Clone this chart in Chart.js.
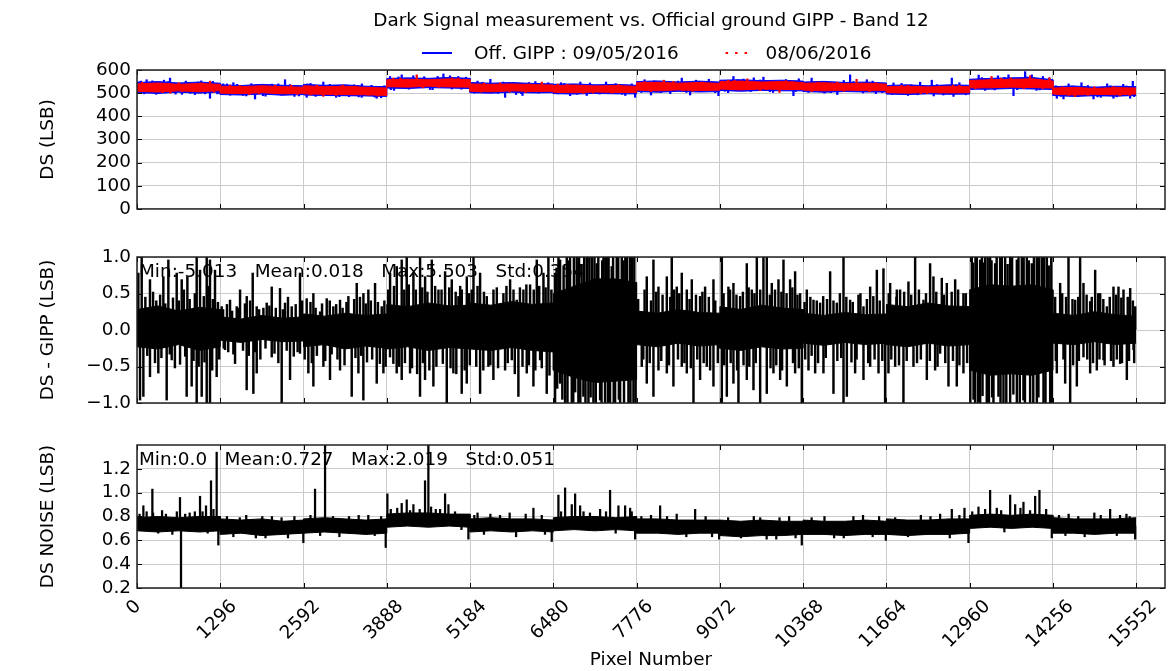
<!DOCTYPE html>
<html>
<head>
<meta charset="utf-8">
<script src="https://cdn.jsdelivr.net/npm/chart.js@4.4.1/dist/chart.umd.min.js"></script>
<style>
  html, body { margin: 0; padding: 0; background: #fff; }
  #wrap { position: relative; width: 1171px; height: 671px; overflow: hidden; }
  #wrap canvas { position: absolute; left: 0; }
</style>
</head>
<body>
<div id="wrap">
  <canvas id="dsChart" width="1171" height="226" style="top:0px"></canvas>
  <canvas id="diffChart" width="1171" height="200" style="top:226px"></canvas>
  <canvas id="noiseChart" width="1171" height="245" style="top:426px"></canvas>
</div>
<script>
// ---------- labels ----------
const chartTitle = 'Dark Signal measurement vs. Official ground GIPP - Band 12';
const seriesNames = ['Off. GIPP : 09/05/2016', '08/06/2016'];
const xTitle = 'Pixel Number';
const yTitles = ['DS (LSB)', 'DS - GIPP (LSB)', 'DS NOISE (LSB)'];
const statNames = ['Min', 'Mean', 'Max', 'Std'];

// ---------- axes ----------
const pixelTicks = [0, 1296, 2592, 3888, 5184, 6480, 7776, 9072, 10368, 11664, 12960, 14256, 15552];
const dsTicks = [0, 100, 200, 300, 400, 500, 600];
const diffTicks = [-1, -0.5, 0, 0.5, 1];
const noiseTicks = [0.2, 0.4, 0.6, 0.8, 1.0, 1.2];

// envelope sample positions (5 per detector of 1296 pixels)
const bandPixels = [
  0, 324, 648, 972, 1295,        1296, 1620, 1944, 2268, 2591,
  2592, 2916, 3240, 3564, 3887,  3888, 4212, 4536, 4860, 5183,
  5184, 5508, 5832, 6156, 6479,  6480, 6804, 7128, 7452, 7775,
  7776, 8100, 8424, 8748, 9071,  9072, 9396, 9720, 10044, 10367,
  10368, 10692, 11016, 11340, 11663, 11664, 11988, 12312, 12636, 12959,
  12960, 13284, 13608, 13932, 14255, 14256, 14580, 14904, 15228, 15551
];

// ---------- dark signal (LSB) ----------
const gippHigh = [
  546, 550, 544, 548, 543,  536, 533, 538, 534, 532,
  538, 534, 536, 530, 528,  563, 566, 564, 568, 564,
  546, 543, 546, 542, 540,  538, 540, 536, 538, 534,
  550, 553, 548, 552, 548,  556, 558, 554, 556, 552,
  548, 551, 546, 548, 544,  533, 536, 532, 536, 534,
  560, 564, 566, 568, 558,  528, 531, 526, 530, 528
];
const gippLow = [
  502, 499, 504, 500, 505,  494, 492, 496, 491, 494,
  492, 490, 489, 488, 486,  522, 520, 524, 522, 520,
  502, 500, 504, 501, 502,  498, 496, 499, 497, 497,
  507, 504, 508, 505, 507,  512, 508, 512, 510, 510,
  507, 504, 507, 505, 505,  496, 494, 497, 495, 496,
  517, 517, 520, 518, 516,  490, 486, 489, 487, 490
];
const measHigh = [
  540, 544, 538, 542, 538,  530, 528, 532, 528, 526,
  532, 528, 530, 525, 522,  558, 560, 558, 562, 558,
  540, 538, 540, 537, 535,  533, 535, 531, 533, 529,
  545, 547, 543, 546, 542,  550, 552, 548, 550, 546,
  543, 545, 541, 543, 539,  528, 530, 527, 530, 528,
  555, 558, 560, 562, 552,  522, 525, 520, 524, 522
];
const measLow = [
  508, 505, 510, 506, 511,  500, 498, 502, 497, 500,
  497, 495, 494, 493, 490,  528, 526, 530, 527, 526,
  508, 506, 510, 507, 508,  504, 502, 505, 503, 503,
  513, 510, 514, 511, 513,  518, 514, 518, 516, 516,
  513, 510, 513, 511, 511,  502, 500, 503, 501, 502,
  523, 523, 526, 524, 522,  496, 492, 495, 493, 496
];
const dsLevel = [524, 515, 512, 543, 524, 519, 529, 533, 527, 515, 540, 509];
const gippSpikes = [
  [30, 549], [60, 552], [110, 497], [150, 558], [240, 553], [300, 495], [350, 498], [420, 556],
  [480, 550], [514, 565], [600, 496], [700, 495], [760, 552], [830, 499], [900, 494], [950, 548],
  [1000, 553], [1060, 497], [1136, 478], [1180, 551], [1250, 497], [1280, 499],
  [1340, 540], [1400, 540], [1450, 491], [1500, 545], [1560, 538], [1650, 490], [1700, 488],
  [1780, 541], [1837, 475], [1960, 489], [2000, 487], [2100, 539], [2200, 540], [2250, 491],
  [2304, 558], [2380, 537], [2450, 486], [2520, 488],
  [2641, 482], [2650, 540], [2700, 542], [2780, 486], [2900, 548], [3000, 538], [3100, 482],
  [3150, 485], [3300, 485], [3380, 536], [3450, 484], [3497, 482], [3500, 540], [3650, 534],
  [3700, 483], [3731, 478], [3800, 480], [3850, 532],
  [3938, 572], [3950, 515], [4000, 512], [4070, 570], [4120, 579], [4230, 517], [4300, 575],
  [4470, 571], [4560, 516], [4600, 515], [4680, 572], [4769, 583], [4872, 575], [4900, 518],
  [5000, 572], [5050, 517], [5120, 569],
  [5250, 500], [5300, 552], [5380, 547], [5500, 560], [5620, 499], [5700, 548], [5729, 482],
  [5900, 494], [5980, 498], [6000, 490], [6100, 546], [6200, 550], [6250, 500], [6400, 545],
  [6550, 497], [6600, 545], [6650, 542], [6741, 489], [6850, 495], [6900, 548], [7000, 490],
  [7050, 544], [7200, 496], [7300, 548], [7450, 541], [7550, 495], [7600, 490], [7700, 540],
  [7753, 482],
  [7850, 503], [7900, 558], [8000, 492], [8050, 553], [8150, 502], [8300, 498], [8420, 552],
  [8479, 565], [8550, 503], [8609, 492], [8700, 556], [8800, 551], [8900, 560], [9000, 502],
  [9050, 489],
  [9150, 508], [9200, 502], [9283, 572], [9350, 558], [9439, 561], [9550, 507], [9600, 566],
  [9700, 557], [9750, 569], [9850, 506], [9900, 503], [10100, 559], [10217, 489], [10250, 507],
  [10300, 562],
  [10450, 503], [10500, 565], [10600, 551], [10700, 500], [10800, 502], [10900, 494], [11000, 555],
  [11099, 579], [11150, 550], [11300, 501], [11359, 558], [11450, 552], [11500, 498], [11600, 502],
  [11750, 494], [11774, 544], [11900, 542], [12000, 490], [12050, 536], [12150, 493], [12189, 547],
  [12370, 556], [12400, 488], [12450, 537], [12550, 492], [12682, 565], [12708, 486], [12750, 536],
  [12800, 545], [12900, 493],
  [13000, 515], [13100, 578], [13150, 567], [13200, 512], [13350, 514], [13400, 575], [13500, 568],
  [13564, 579], [13642, 489], [13700, 515], [13823, 593], [13850, 570], [13927, 579], [14000, 512],
  [14050, 514], [14100, 572], [14200, 566],
  [14300, 532], [14316, 478], [14380, 486], [14420, 475], [14500, 540], [14550, 531], [14650, 485],
  [14700, 545], [14800, 533], [14887, 475], [14950, 484], [15000, 482], [15100, 540], [15150, 532],
  [15198, 478], [15250, 484], [15350, 538], [15400, 531], [15458, 478], [15499, 551], [15520, 485]
];
const measSpikes = [
  [80, 547], [200, 542], [400, 502], [520, 500], [650, 545], [700, 506], [1000, 545], [1136, 552],
  [1200, 504], [1450, 535], [1600, 533], [1750, 494], [1900, 497], [2150, 534], [2400, 535],
  [2500, 494], [2700, 492], [2800, 534], [2900, 486], [3100, 490], [3200, 535], [3400, 531],
  [3600, 490], [3750, 487], [3990, 565], [4100, 565], [4354, 579], [4450, 523], [4700, 525],
  [4900, 566], [5000, 565], [5350, 504], [5400, 543], [5650, 544], [5800, 505], [6050, 503],
  [6100, 540], [6300, 548], [6550, 539], [6700, 538], [6950, 499], [7100, 500], [7400, 500],
  [7500, 537], [7900, 550], [8000, 507], [8200, 556], [8350, 551], [8500, 510], [8650, 508],
  [8800, 548], [9200, 556], [9300, 555], [9500, 562], [9700, 511], [9800, 515], [10000, 503],
  [10100, 554], [10200, 550], [10500, 507], [10600, 548], [10900, 548], [11000, 508], [11200, 560],
  [11400, 507], [11500, 545], [11900, 534], [12000, 533], [12200, 498], [12300, 498], [12500, 500],
  [12700, 535], [12800, 534], [13050, 519], [13100, 522], [13300, 572], [13450, 565], [13600, 566],
  [13800, 520], [13900, 575], [14100, 520], [14200, 566], [14400, 527], [14500, 490], [14600, 485],
  [14800, 490], [14900, 528], [15200, 528], [15300, 488], [15450, 490]
];

// ---------- DS - GIPP (LSB) ----------
const diffHigh = [
  0.28, 0.33, 0.26, 0.31, 0.28,  0.18, 0.15, 0.20, 0.16, 0.18,
  0.22, 0.19, 0.23, 0.20, 0.22,  0.35, 0.32, 0.37, 0.33, 0.34,
  0.37, 0.34, 0.39, 0.35, 0.37,  0.50, 0.60, 0.70, 0.70, 0.65,
  0.26, 0.23, 0.28, 0.24, 0.23,  0.32, 0.28, 0.34, 0.30, 0.28,
  0.23, 0.20, 0.24, 0.21, 0.22,  0.35, 0.32, 0.37, 0.33, 0.32,
  0.55, 0.62, 0.60, 0.62, 0.55,  0.23, 0.20, 0.25, 0.21, 0.19
];
const diffLow = [
  -0.23, -0.26, -0.20, -0.28, -0.23,  -0.14, -0.17, -0.13, -0.16, -0.15,
  -0.23, -0.20, -0.26, -0.22, -0.25,  -0.26, -0.23, -0.28, -0.24, -0.26,
  -0.26, -0.28, -0.24, -0.28, -0.30,  -0.55, -0.65, -0.72, -0.70, -0.68,
  -0.20, -0.23, -0.18, -0.22, -0.20,  -0.25, -0.28, -0.23, -0.26, -0.25,
  -0.18, -0.21, -0.17, -0.20, -0.18,  -0.20, -0.23, -0.18, -0.22, -0.20,
  -0.55, -0.62, -0.60, -0.62, -0.55,  -0.18, -0.20, -0.16, -0.20, -0.18
];
const diffSpikes = [
  // detector 1
  [21, 0.78], [47, -0.96], [73, 1.3], [99, -0.91], [130, 0.45], [160, -0.35], [202, 0.69], [202, -0.64],
  [250, 0.52], [280, -0.45], [300, 0.40], [332, -0.59], [360, 0.48], [380, -0.38], [410, 0.73],
  [440, 0.36], [462, -0.96], [488, 0.96], [510, -0.33], [540, -0.41], [560, 0.44], [590, -0.52],
  [618, 0.78], [650, 0.40], [670, -0.47], [696, 0.69], [730, 0.55], [750, -0.36], [773, -0.91],
  [784, 0.73], [820, 0.42], [851, -0.77], [880, -0.42], [900, 0.50], [929, 1.2], [929, -1.2],
  [960, -0.50], [981, 0.82], [1007, -0.91], [1040, 0.46], [1050, -0.44], [1085, 1.4], [1085, -1.3],
  [1110, 0.60], [1136, 0.96], [1136, -1.2], [1170, -0.55], [1180, 0.42], [1214, 0.82], [1240, -0.64],
  [1260, 0.38], [1280, -0.40],
  // detector 2
  [1318, 0.32], [1340, 0.28], [1350, -0.25], [1370, -0.27], [1400, 0.35], [1420, -0.30], [1448, 0.41],
  [1480, 0.26], [1500, -0.33], [1526, -0.46], [1552, 0.32], [1580, 0.30], [1604, 0.55], [1650, -0.28],
  [1680, 0.36], [1707, -0.82], [1708, 0.46], [1740, -0.35], [1760, 0.40], [1801, 0.78], [1811, -0.87],
  [1840, -0.30], [1863, 0.32], [1863, -0.59], [1900, 0.28], [1920, -0.40], [1967, 0.30], [2000, -0.25],
  [2019, 0.37], [2060, 0.33], [2097, 0.59], [2097, -0.37], [2140, -0.32], [2160, 0.30], [2200, -0.45],
  [2226, 0.57], [2252, -1.2], [2270, 0.28], [2304, 0.37], [2330, -0.28], [2350, 0.45], [2382, -0.68],
  [2408, 0.32], [2440, -0.36], [2470, 0.35], [2500, -0.30], [2537, 0.78], [2537, -0.32], [2570, 0.40],
  // detector 3
  [2610, -0.40], [2641, 0.43], [2667, -0.59], [2700, 0.38], [2720, -0.45], [2745, 0.50], [2745, -0.77],
  [2780, 0.30], [2800, -0.35], [2849, 0.25], [2880, 0.36], [2901, -0.50], [2930, -0.42], [2953, 0.43],
  [3000, 0.40], [3004, -0.68], [3030, -0.33], [3056, 0.32], [3100, 0.35], [3120, -0.40], [3160, 0.41],
  [3160, -0.55], [3200, 0.30], [3230, -0.48], [3260, 0.38], [3290, 0.46], [3342, -0.91], [3380, 0.42],
  [3400, -0.38], [3420, 0.64], [3446, -0.59], [3470, 0.45], [3490, -0.35], [3523, -0.96], [3524, 0.50],
  [3560, 0.36], [3580, -0.44], [3601, 0.55], [3640, 0.40], [3660, -0.40], [3705, 0.64], [3731, -0.73],
  [3750, 0.38], [3780, -0.46], [3809, 0.32], [3835, -0.59], [3850, 0.40], [3870, -0.50],
  // detector 4
  [3910, 0.55], [3938, -0.37], [3939, 0.78], [3990, -0.46], [4000, 0.60], [4042, -0.59], [4043, 0.87],
  [4080, -0.50], [4120, 0.96], [4120, -0.68], [4160, 0.55], [4170, -0.45], [4198, 1.2], [4230, 0.62],
  [4250, -0.59], [4280, -0.52], [4302, 0.78], [4340, 0.55], [4360, -0.60], [4405, -0.91], [4406, 1.3],
  [4440, 0.58], [4450, -0.45], [4483, -0.68], [4484, 0.73], [4520, 0.52], [4550, -0.55], [4588, 0.96],
  [4613, -0.77], [4640, 0.60], [4660, -0.50], [4692, 0.55], [4740, 0.55], [4760, -0.46], [4795, 0.80],
  [4821, -1.2], [4860, 0.58], [4880, -0.52], [4899, 0.69], [4924, -0.59], [4960, 0.52], [4970, -0.60],
  [5003, 0.46], [5030, 0.60], [5054, -0.87], [5055, 0.55], [5100, -0.55], [5132, -0.73], [5133, 0.73],
  [5170, 0.50], [5180, -0.48],
  // detector 5
  [5210, 0.55], [5237, 1.2], [5280, -0.50], [5300, 0.60], [5340, 0.78], [5340, -0.87], [5390, -0.55],
  [5400, 0.52], [5444, 0.46], [5469, -0.50], [5500, -0.48], [5547, -0.68], [5548, 0.55], [5600, 0.58],
  [5620, -0.52], [5703, 0.50], [5729, -0.55], [5750, 0.60], [5770, -0.45], [5807, 0.69], [5833, -0.41],
  [5860, 0.55], [5880, -0.60], [5910, 0.41], [5936, -0.91], [5960, 0.58], [6000, -0.50], [6014, 0.55],
  [6060, 0.62], [6066, -0.59], [6100, -0.48], [6118, 0.62], [6170, -0.77], [6175, 0.55], [6200, -0.55],
  [6222, 0.96], [6260, 0.60], [6274, -0.41], [6300, -0.52], [6326, 0.78], [6360, 0.58], [6377, -0.87],
  [6403, 1.2], [6420, -0.62], [6450, 0.55],
  // detector 6
  [6507, 0.78], [6507, -1.2], [6530, 0.85], [6540, -0.80], [6560, 1.2], [6585, 0.96], [6585, -0.73],
  [6620, -0.95], [6640, 0.88], [6663, -1.3], [6689, 1.3], [6700, -1.2], [6720, 0.95], [6740, 1.2],
  [6767, -1.2], [6790, -1.1], [6800, 1.2], [6820, -0.85], [6844, 1.2], [6870, -1.4], [6880, 1.2],
  [6900, -1.2], [6920, 0.90], [6948, -0.91], [6960, 1.2], [6980, -1.2], [7000, 1.4], [7026, -1.2],
  [7040, 1.2], [7060, -0.92], [7078, 1.2], [7104, -1.3], [7120, 1.2], [7140, -1.2], [7156, 0.91],
  [7180, 1.2], [7208, -0.96], [7230, -1.2], [7240, 0.95], [7260, 1.3], [7285, -5.013], [7290, 1.2],
  [7311, 1.2], [7330, -1.2], [7340, 1.2], [7363, -1.2], [7389, 0.87], [7410, 1.2], [7420, -1.2],
  [7441, -1.3], [7467, 1.2], [7490, 1.2], [7500, -0.95], [7519, -1.2], [7545, 1.3], [7570, 0.95],
  [7580, -1.2], [7600, 1.2], [7623, 1.2], [7649, -1.4], [7670, 1.2], [7680, -1.2], [7701, 1.4],
  [7727, -1.2], [7740, 1.2], [7760, -1.2],
  // detector 7
  [7800, 0.42], [7830, 0.25], [7856, -0.50], [7880, -0.40], [7900, 0.55], [7934, 0.73], [7934, -0.73],
  [7980, -0.45], [8000, 0.40], [8038, 0.96], [8038, -0.91], [8080, 0.52], [8116, 0.59], [8116, -0.55],
  [8160, -0.42], [8180, 0.48], [8246, 0.73], [8246, -0.59], [8280, -0.48], [8300, 0.45], [8323, 1.2],
  [8349, -0.77], [8360, 0.55], [8401, 0.59], [8420, -0.40], [8440, 0.50], [8479, 0.78], [8479, -0.50],
  [8520, -0.45], [8557, 0.55], [8557, -0.59], [8600, 0.42], [8620, -0.52], [8635, 0.69], [8661, -1.2],
  [8700, 0.48], [8720, -0.40], [8764, 0.46], [8764, -0.68], [8800, 0.52], [8820, -0.45], [8842, 0.59],
  [8868, -0.50], [8900, 0.45], [8920, -0.55], [8972, 0.69], [8972, -0.77], [9000, 0.40], [9040, -0.45],
  // detector 8
  [9102, 1.2], [9102, -1.2], [9130, 0.50], [9140, -0.48], [9180, -0.91], [9205, 0.59], [9230, 0.55],
  [9240, -0.45], [9283, 0.64], [9283, -0.73], [9330, 0.48], [9340, -0.55], [9361, -1.3], [9387, 0.46],
  [9430, 0.52], [9440, -0.48], [9491, 0.91], [9491, -0.68], [9520, 0.58], [9530, -0.50], [9569, 0.55],
  [9595, -0.82], [9610, 0.50], [9630, -0.45], [9647, 1.3], [9699, -1.2], [9700, 0.55], [9750, 1.2],
  [9802, 1.1], [9802, -0.87], [9850, 0.48], [9860, -0.52], [9880, 0.64], [9906, -0.59], [9930, 0.55],
  [9950, -0.48], [9984, 0.69], [10010, -0.68], [10030, 0.52], [10040, -0.55], [10062, 0.96],
  [10110, 0.50], [10114, -0.77], [10165, 0.69], [10200, 0.58], [10210, -0.45], [10243, 0.80],
  [10243, -0.59], [10280, 0.48], [10300, -0.52], [10321, 0.50], [10347, -1.2],
  // detector 9
  [10390, 0.38], [10400, -0.40], [10425, 0.55], [10451, -0.55], [10480, 0.45], [10500, -0.35],
  [10529, 0.41], [10555, -0.59], [10580, 0.40], [10600, -0.45], [10632, 0.37], [10680, 0.46],
  [10684, -0.59], [10720, -0.38], [10740, 0.42], [10788, 0.80], [10840, 0.40], [10840, -0.87],
  [10892, 0.37], [10900, -0.42], [10940, 0.50], [10960, -0.38], [10996, 1.2], [10996, -1.2],
  [11040, 0.45], [11048, -0.91], [11099, 0.41], [11120, -0.44], [11140, 0.38], [11177, -0.59],
  [11200, -0.40], [11229, 0.48], [11260, 0.50], [11307, 0.32], [11307, -0.68], [11360, 0.42],
  [11380, -0.45], [11411, 0.59], [11411, -0.50], [11460, 0.46], [11480, -0.40], [11515, 0.82],
  [11541, -0.59], [11560, 0.40], [11600, -0.42], [11618, 0.84], [11644, -1.2],
  // detector 10
  [11696, -0.59], [11700, 0.50], [11722, 0.64], [11740, -0.40], [11800, -0.50], [11820, 0.45],
  [11826, 0.55], [11860, -0.48], [11877, 0.55], [11929, -1.2], [11940, 0.52], [11980, -0.42],
  [12007, 0.66], [12050, 0.48], [12085, -0.50], [12111, 1.2], [12140, -0.45], [12170, 0.55],
  [12200, -0.40], [12241, 0.41], [12280, 0.50], [12293, -0.68], [12340, -0.42], [12344, 0.91],
  [12396, 0.73], [12422, -0.55], [12440, 0.52], [12460, -0.50], [12500, -0.32], [12526, 0.71],
  [12560, 0.48], [12580, -0.45], [12604, 0.64], [12630, -0.77], [12680, 0.52], [12700, -0.42],
  [12734, 0.69], [12759, -0.77], [12780, 0.55], [12800, -0.48], [12863, 0.50], [12863, -0.59],
  [12900, 0.50], [12920, -0.45],
  // detector 11
  [12970, -1.2], [12993, 1.2], [13010, 0.92], [13020, -0.95], [13045, -1.2], [13050, 1.2],
  [13071, 1.3], [13090, -1.2], [13123, 0.96], [13123, -1.3], [13150, 1.2], [13160, -0.90],
  [13180, 0.92], [13200, 1.2], [13226, -1.2], [13240, 1.2], [13260, -1.2], [13278, 1.4], [13300, 0.95],
  [13310, -0.92], [13330, -1.4], [13356, 0.91], [13380, 1.2], [13408, -0.91], [13434, 5.503],
  [13440, -1.2], [13460, 1.2], [13486, -1.2], [13512, 1.2], [13530, -1.2], [13550, 0.90], [13590, 1.3],
  [13590, -1.3], [13620, 1.2], [13640, -0.88], [13694, 0.96], [13694, -1.2], [13720, 1.2],
  [13740, -1.2], [13771, 1.2], [13797, -0.96], [13800, 1.2], [13820, -1.2], [13849, 1.3], [13880, 0.95],
  [13901, -1.2], [13927, 0.91], [13950, -1.2], [13960, 1.2], [14005, 1.2], [14005, -1.3], [14030, -0.92],
  [14040, 1.2], [14083, 1.4], [14109, -1.2], [14120, 1.2], [14140, -1.2], [14161, 1.2], [14190, 0.88],
  [14213, -1.4], [14230, 1.2], [14240, -1.2],
  // detector 12
  [14290, 0.45], [14300, -0.42], [14316, -0.59], [14368, 0.64], [14400, 0.50], [14420, -0.40],
  [14446, -0.73], [14460, 0.45], [14498, 1.2], [14524, -1.2], [14560, 0.42], [14570, -0.48],
  [14602, 0.41], [14628, -0.77], [14650, 0.45], [14660, -0.42], [14679, 1.3], [14731, 0.64],
  [14731, -0.37], [14780, 0.48], [14790, -0.40], [14835, 0.39], [14835, -0.59], [14860, 0.45],
  [14880, -0.45], [14913, 0.82], [14939, -0.55], [14960, 0.50], [14980, -0.40], [14991, 0.50],
  [15040, 0.42], [15043, -0.41], [15060, -0.48], [15095, 0.32], [15140, 0.45], [15160, -0.42],
  [15198, 0.59], [15198, -0.50], [15240, 0.48], [15250, -0.40], [15276, 0.59], [15302, -0.46],
  [15320, 0.44], [15330, -0.45], [15354, 0.55], [15406, -0.68], [15420, 0.45], [15440, -0.42],
  [15458, 0.57], [15500, 0.40], [15510, -0.27], [15520, -0.45], [15536, 0.32]
];
const diffStats = [-5.013, 0.018, 5.503, 0.354];

// ---------- DS noise (LSB) ----------
const noiseHigh = [
  0.79, 0.80, 0.79, 0.80, 0.80,  0.78, 0.77, 0.78, 0.76, 0.77,
  0.78, 0.79, 0.78, 0.77, 0.78,  0.82, 0.83, 0.83, 0.82, 0.82,
  0.78, 0.79, 0.78, 0.78, 0.77,  0.79, 0.80, 0.80, 0.79, 0.80,
  0.78, 0.78, 0.77, 0.77, 0.77,  0.77, 0.76, 0.77, 0.76, 0.76,
  0.77, 0.76, 0.76, 0.77, 0.76,  0.78, 0.77, 0.77, 0.78, 0.78,
  0.81, 0.82, 0.81, 0.82, 0.81,  0.79, 0.78, 0.78, 0.78, 0.79
];
const noiseLow = [
  0.68, 0.67, 0.68, 0.67, 0.68,  0.65, 0.66, 0.64, 0.65, 0.66,
  0.66, 0.67, 0.66, 0.65, 0.66,  0.71, 0.72, 0.71, 0.72, 0.71,
  0.67, 0.68, 0.67, 0.68, 0.67,  0.68, 0.69, 0.68, 0.69, 0.68,
  0.66, 0.66, 0.65, 0.66, 0.66,  0.64, 0.63, 0.64, 0.64, 0.65,
  0.65, 0.65, 0.64, 0.65, 0.65,  0.65, 0.64, 0.65, 0.65, 0.66,
  0.70, 0.71, 0.70, 0.71, 0.70,  0.66, 0.66, 0.65, 0.66, 0.66
];
const noiseLevel = [0.74, 0.71, 0.72, 0.77, 0.73, 0.74, 0.72, 0.70, 0.71, 0.71, 0.76, 0.72];
const noiseSpikes = [
  [40, 0.82], [99, 0.89], [150, 0.84], [239, 1.03], [250, 0.83], [330, 0.66], [390, 0.85],
  [450, 0.82], [550, 0.65], [620, 0.84], [669, 0.96], [685, 0.0], [750, 0.82], [820, 0.83],
  [900, 0.84], [981, 0.97], [1020, 0.84], [1074, 0.89], [1100, 0.66], [1152, 1.10], [1190, 0.86],
  [1240, 1.34], [1266, 0.56], [1400, 0.80], [1500, 0.63], [1600, 0.79], [1700, 0.81], [1850, 0.62],
  [1950, 0.80], [2000, 0.62], [2100, 0.80], [2250, 0.79], [2350, 0.62], [2450, 0.80], [2589, 0.58],
  [2700, 0.81], [2771, 1.03], [2850, 0.64], [2927, 2.019], [3050, 0.80], [3150, 0.63], [3300, 0.80],
  [3450, 0.81], [3600, 0.81], [3700, 0.64], [3800, 0.80], [3871, 0.54], [3897, 0.99], [3950, 0.86],
  [4050, 0.87], [4120, 0.91], [4198, 0.94], [4250, 0.85], [4302, 0.90], [4400, 0.86], [4483, 1.10],
  [4535, 1.8], [4577, 0.88], [4650, 0.86], [4717, 0.86], [4795, 0.99], [4847, 0.90], [4950, 0.84],
  [5050, 0.69], [5158, 0.61], [5250, 0.81], [5300, 0.83], [5400, 0.65], [5500, 0.82], [5650, 0.81],
  [5800, 0.83], [5900, 0.63], [6050, 0.82], [6170, 0.87], [6300, 0.81], [6350, 0.65], [6455, 0.59],
  [6559, 0.98], [6600, 0.84], [6663, 1.04], [6767, 0.90], [6819, 0.99], [6897, 0.89], [6950, 0.84],
  [7050, 0.83], [7208, 0.86], [7300, 0.84], [7363, 1.02], [7450, 0.66], [7493, 0.89], [7597, 0.89],
  [7675, 0.87], [7700, 0.84], [7753, 0.61], [7850, 0.80], [8000, 0.81], [8142, 0.89], [8250, 0.80],
  [8400, 0.82], [8550, 0.63], [8687, 0.86], [8850, 0.80], [8950, 0.63], [9060, 0.61], [9200, 0.79],
  [9400, 0.62], [9600, 0.80], [9700, 0.79], [9800, 0.61], [9950, 0.61], [10000, 0.79], [10150, 0.80],
  [10250, 0.62], [10347, 0.56], [10500, 0.79], [10700, 0.80], [10850, 0.62], [11000, 0.62],
  [11150, 0.80], [11300, 0.81], [11450, 0.63], [11550, 0.80], [11655, 0.60], [11800, 0.79],
  [12000, 0.63], [12200, 0.81], [12350, 0.80], [12500, 0.82], [12650, 0.62], [12682, 0.86],
  [12800, 0.81], [12879, 0.87], [12941, 0.58], [13000, 0.84], [13097, 0.88], [13200, 0.86],
  [13278, 1.02], [13382, 0.87], [13450, 0.85], [13500, 0.67], [13590, 0.98], [13668, 0.90],
  [13750, 0.87], [13797, 0.92], [13900, 0.85], [13979, 0.97], [14046, 1.02], [14150, 0.86],
  [14238, 0.62], [14350, 0.81], [14450, 0.64], [14500, 0.82], [14650, 0.80], [14750, 0.63],
  [14900, 0.83], [15000, 0.81], [15146, 0.86], [15250, 0.64], [15300, 0.81], [15400, 0.82],
  [15450, 0.80], [15536, 0.61]
];
const noiseStats = [0.0, 0.727, 2.019, 0.051];

// ---------- helpers ----------
const FONT = 'DejaVu Sans';
const FS = 18.4;
const GRID = '#cbcbcb';
const BLUE = '#0000ff';
const RED = '#ff0000';
Chart.defaults.font.family = FONT;
Chart.defaults.font.size = FS;
Chart.defaults.color = '#000';

const detectorOf = px => Math.min(11, Math.floor(px / 1296));
const band = vals => vals.map((v, i) => ({ x: bandPixels[i], y: v }));
const spikes = (list, level) => list.map(([px, v]) => ({
  x: px, y: [Array.isArray(level) ? level[detectorOf(px)] : level, v]
}));
const pyNum = v => Number.isInteger(v) ? v.toFixed(1) : String(v);
const statLine = vals => vals.map((v, i) => statNames[i] + ':' + pyNum(v)).join('   ');

function bandPair(high, low, color, order) {
  return [
    { type: 'line', data: band(high), borderColor: color, backgroundColor: color, borderWidth: 1,
      pointRadius: 0, tension: 0, fill: '+1', order },
    { type: 'line', data: band(low), borderColor: color, backgroundColor: color, borderWidth: 1,
      pointRadius: 0, tension: 0, fill: false, order }
  ];
}
function spikeSet(data, color, order, width) {
  return { type: 'bar', data, backgroundColor: color, borderWidth: 0, barThickness: width,
    grouped: false, order };
}

function xScale() {
  return {
    type: 'linear', min: 0, max: 16000, offset: false,
    afterBuildTicks: s => { s.ticks = pixelTicks.map(v => ({ value: v })); },
    afterFit: s => { s.height = 0; },
    ticks: { display: false },
    grid: { color: GRID, lineWidth: 1, drawTicks: false, offset: false },
    border: { display: false }
  };
}
function yScale(min, max, tickList, title, fmt) {
  return {
    type: 'linear', min, max,
    afterBuildTicks: s => { s.ticks = tickList.map(v => ({ value: v })); },
    afterFit: s => { s.width = 137; },
    ticks: { padding: 6, autoSkip: false, callback: v => fmt(v), font: { size: FS } },
    grid: { color: GRID, lineWidth: 1, drawTicks: false },
    border: { display: false },
    title: { display: true, text: title, font: { size: FS }, padding: { top: 37, bottom: 0 } }
  };
}

// axes frame with inward tick marks
const framePlugin = {
  id: 'frame',
  afterDatasetsDraw(chart) {
    const { ctx, chartArea: a, scales: { x, y } } = chart;
    ctx.save();
    ctx.strokeStyle = '#000';
    ctx.lineWidth = 1;
    ctx.beginPath();
    x.ticks.forEach(t => {
      const px = Math.round(x.getPixelForValue(t.value)) + 0.5;
      ctx.moveTo(px, a.bottom); ctx.lineTo(px, a.bottom - 5);
      ctx.moveTo(px, a.top); ctx.lineTo(px, a.top + 5);
    });
    y.ticks.forEach(t => {
      const py = Math.round(y.getPixelForValue(t.value)) + 0.5;
      ctx.moveTo(a.left, py); ctx.lineTo(a.left + 5, py);
      ctx.moveTo(a.right, py); ctx.lineTo(a.right - 5, py);
    });
    ctx.stroke();
    ctx.lineWidth = 1.5;
    ctx.strokeStyle = '#222';
    ctx.strokeRect(a.left, a.top, a.right - a.left, a.bottom - a.top);
    ctx.restore();
  }
};

const headerPlugin = {
  id: 'header',
  afterDraw(chart) {
    const { ctx, chartArea: a } = chart;
    const cx = (a.left + a.right) / 2;
    ctx.save();
    ctx.fillStyle = '#000';
    ctx.font = FS + 'px "' + FONT + '"';
    ctx.textAlign = 'center';
    ctx.textBaseline = 'middle';
    ctx.fillText(chartTitle, cx, 21);
    // legend row
    ctx.textAlign = 'left';
    const ly = 53;
    let lx = cx - 229;
    ctx.lineWidth = 2;
    ctx.strokeStyle = BLUE;
    ctx.beginPath(); ctx.moveTo(lx, ly); ctx.lineTo(lx + 30, ly); ctx.stroke();
    ctx.fillText(seriesNames[0], lx + 52, ly + 1);
    lx = lx + 52 + ctx.measureText(seriesNames[0]).width + 47;
    ctx.strokeStyle = RED;
    ctx.setLineDash([2.5, 7]);
    ctx.beginPath(); ctx.moveTo(lx, ly); ctx.lineTo(lx + 26, ly); ctx.stroke();
    ctx.setLineDash([]);
    ctx.fillText(seriesNames[1], lx + 40, ly + 1);
    ctx.restore();
  }
};

function statsPlugin(text) {
  return {
    id: 'stats',
    afterDatasetsDraw(chart) {
      const { ctx, chartArea: a } = chart;
      ctx.save();
      ctx.fillStyle = '#000';
      ctx.font = FS + 'px "' + FONT + '"';
      ctx.textAlign = 'left';
      ctx.textBaseline = 'middle';
      ctx.fillText(text, a.left + 2, a.top + 15);
      ctx.restore();
    }
  };
}

const bottomAxisPlugin = {
  id: 'bottomAxis',
  afterDraw(chart) {
    const { ctx, chartArea: a, scales: { x } } = chart;
    ctx.save();
    ctx.fillStyle = '#000';
    ctx.font = FS + 'px "' + FONT + '"';
    ctx.textAlign = 'center';
    ctx.textBaseline = 'middle';
    pixelTicks.forEach(v => {
      const label = String(v);
      const w = ctx.measureText(label).width;
      const half = (w + FS) * Math.SQRT1_2 / 2;
      ctx.save();
      ctx.translate(x.getPixelForValue(v) - 3, a.bottom + 9 + half);
      ctx.rotate(-Math.PI / 4);
      ctx.fillText(label, 0, 0);
      ctx.restore();
    });
    ctx.fillText(xTitle, (a.left + a.right) / 2, a.bottom + 72);
    ctx.restore();
  }
};

function baseOptions(pad, yOpts) {
  return {
    responsive: false, animation: false, devicePixelRatio: 1, events: [],
    layout: { padding: pad },
    plugins: { legend: { display: false }, title: { display: false }, tooltip: { enabled: false } },
    scales: { x: xScale(), y: yOpts }
  };
}

// ---------- DS panel ----------
new Chart(document.getElementById('dsChart'), {
  type: 'line',
  data: {
    datasets: [
      spikeSet(spikes(measSpikes, dsLevel), RED, 0, 1.6),
      ...bandPair(measHigh, measLow, RED, 1),
      spikeSet(spikes(gippSpikes, dsLevel), BLUE, 2, 1.6),
      ...bandPair(gippHigh, gippLow, BLUE, 3)
    ]
  },
  options: baseOptions({ left: 0, right: 6, top: 70, bottom: 12 },
    yScale(0, 600, dsTicks, yTitles[0], v => String(v))),
  plugins: [framePlugin, headerPlugin]
});

// ---------- DS - GIPP panel ----------
new Chart(document.getElementById('diffChart'), {
  type: 'line',
  data: {
    datasets: [
      spikeSet(spikes(diffSpikes, 0), '#000', 0, 1.8),
      ...bandPair(diffHigh, diffLow, '#000', 1)
    ]
  },
  options: baseOptions({ left: 0, right: 6, top: 31, bottom: 23 },
    yScale(-1, 1, diffTicks, yTitles[1], v => v.toFixed(1).replace('-', '\u2212'))),
  plugins: [framePlugin, statsPlugin(statLine(diffStats))]
});

// ---------- DS noise panel ----------
new Chart(document.getElementById('noiseChart'), {
  type: 'line',
  data: {
    datasets: [
      spikeSet(spikes(noiseSpikes, noiseLevel), '#000', 0, 1.6),
      ...bandPair(noiseHigh, noiseLow, '#000', 1)
    ]
  },
  options: baseOptions({ left: 0, right: 6, top: 19, bottom: 83 },
    yScale(0.2, 1.4, noiseTicks, yTitles[2], v => v.toFixed(1))),
  plugins: [framePlugin, statsPlugin(statLine(noiseStats)), bottomAxisPlugin]
});
</script>
</body>
</html>
